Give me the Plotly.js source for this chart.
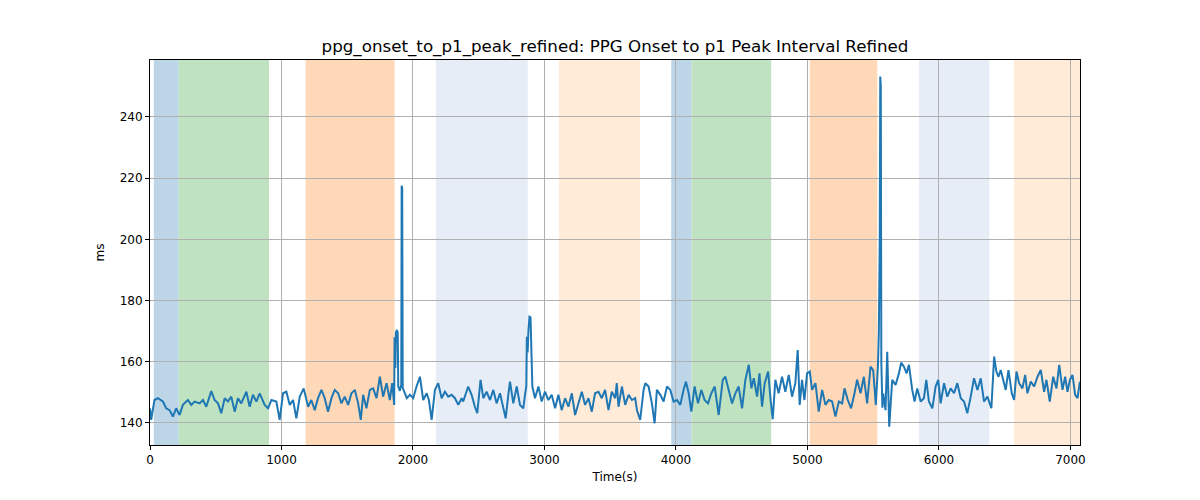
<!DOCTYPE html>
<html>
<head>
<meta charset="utf-8">
<script src="https://cdn.plot.ly/plotly-3.0.1.min.js"></script>
<style>html,body{margin:0;padding:0;background:#fff;}#chart{width:1200px;height:500px;}</style>
</head>
<body>
<div id="chart"></div>
<script>
// Time (s)
const timeS = [
  0, 9, 34, 60, 98, 123, 149, 174, 199, 225, 250, 288, 314, 339, 377, 403, 428, 466, 491, 517,
  542, 568, 593, 618, 644, 669, 694, 733, 758, 783, 809, 834, 872, 898, 923, 961, 986, 1012, 1037, 1063,
  1088, 1113, 1139, 1169, 1202, 1227, 1253, 1278, 1304, 1329, 1354, 1380, 1405, 1431, 1456, 1481, 1507, 1532, 1558, 1583,
  1603, 1621, 1646, 1672, 1697, 1723, 1748, 1773, 1799, 1824, 1842, 1857, 1860, 1866, 1870, 1878, 1884, 1888, 1900, 1911,
  1914, 1918, 1922, 1940, 1953, 1977, 2002, 2027, 2053, 2078, 2104, 2121, 2142, 2167, 2192, 2218, 2243, 2268, 2294, 2319,
  2345, 2370, 2382, 2420, 2446, 2471, 2489, 2514, 2535, 2560, 2586, 2611, 2636, 2662, 2687, 2705, 2725, 2738, 2763, 2789,
  2814, 2839, 2852, 2862, 2866, 2872, 2878, 2886, 2894, 2900, 2908, 2928, 2954, 2979, 3004, 3030, 3055, 3081, 3106, 3131,
  3157, 3182, 3208, 3233, 3258, 3284, 3309, 3335, 3360, 3385, 3411, 3436, 3461, 3487, 3512, 3538, 3550, 3563, 3589, 3614,
  3640, 3665, 3690, 3703, 3728, 3754, 3767, 3792, 3817, 3838, 3855, 3881, 3906, 3932, 3957, 3982, 4008, 4033, 4058, 4076,
  4097, 4117, 4142, 4168, 4193, 4218, 4244, 4269, 4295, 4325, 4356, 4376, 4401, 4427, 4452, 4477, 4503, 4528, 4554, 4574,
  4592, 4617, 4635, 4655, 4675, 4701, 4721, 4736, 4756, 4781, 4807, 4832, 4858, 4883, 4908, 4926, 4941, 4959, 4977, 4997,
  5018, 5035, 5061, 5086, 5112, 5137, 5162, 5188, 5213, 5239, 5264, 5282, 5307, 5332, 5358, 5378, 5404, 5429, 5454, 5480,
  5500, 5520, 5536, 5543, 5550, 5554, 5558, 5562, 5570, 5576, 5594, 5607, 5622, 5645, 5670, 5696, 5713, 5734, 5754, 5772,
  5797, 5815, 5835, 5861, 5886, 5904, 5924, 5950, 5975, 5995, 6013, 6039, 6064, 6089, 6115, 6140, 6166, 6191, 6216, 6242,
  6267, 6293, 6318, 6343, 6369, 6399, 6420, 6437, 6453, 6470, 6488, 6508, 6529, 6554, 6572, 6590, 6610, 6635, 6656, 6673,
  6699, 6724, 6750, 6775, 6800, 6818, 6843, 6869, 6894, 6915, 6940, 6960, 6978, 6996, 7016, 7036, 7054, 7072
];
// PPG onset to p1 peak interval (ms)
const intervalMs = [
  144.8, 141.0, 147.5, 148.1, 147.0, 144.8, 144.2, 142.1, 144.8, 142.6, 145.9, 147.5, 145.9, 147.0, 146.4, 147.5, 145.3, 150.4, 147.5, 146.4,
  143.2, 148.1, 147.0, 148.6, 143.7, 148.1, 146.4, 150.2, 145.3, 149.2, 147.0, 149.7, 145.9, 144.8, 147.5, 147.0, 141.0, 149.7, 150.2, 145.9,
  147.5, 141.5, 148.6, 151.3, 145.3, 147.5, 144.2, 148.1, 150.8, 148.1, 143.7, 148.1, 150.8, 149.7, 146.4, 148.6, 145.9, 149.7, 150.8, 146.4,
  141.0, 149.2, 144.8, 150.8, 151.3, 148.1, 155.1, 148.6, 153.0, 147.5, 153.0, 145.9, 168.0, 158.0, 169.5, 170.4, 169.5, 152.0, 150.5, 152.5,
  217.5, 216.8, 151.5, 149.7, 148.1, 149.2, 148.1, 151.9, 155.1, 147.5, 149.7, 147.5, 141.0, 150.8, 153.0, 148.1, 150.2, 148.6, 149.2, 148.1,
  145.9, 148.1, 147.0, 151.9, 149.2, 145.3, 143.2, 154.1, 148.1, 150.2, 147.5, 150.8, 146.4, 149.7, 145.3, 141.5, 149.2, 153.5, 146.4, 151.9,
  145.9, 144.8, 149.2, 152.0, 168.2, 163.0, 170.0, 174.7, 174.5, 160.0, 151.9, 148.1, 151.9, 147.0, 150.2, 147.5, 149.2, 144.8, 149.2, 144.2,
  148.1, 145.3, 149.7, 142.6, 146.4, 150.2, 145.9, 148.1, 143.7, 149.7, 150.2, 148.1, 150.8, 144.2, 150.2, 148.1, 153.0, 145.3, 151.9, 145.9,
  149.2, 147.5, 148.1, 144.2, 141.0, 150.8, 153.0, 151.9, 146.4, 139.9, 150.8, 149.2, 147.0, 151.9, 150.8, 147.0, 147.5, 145.9, 150.8, 153.5,
  149.7, 143.7, 151.9, 146.4, 150.8, 147.5, 146.4, 149.7, 151.9, 142.6, 154.1, 155.1, 150.8, 146.4, 149.7, 151.9, 144.8, 154.1, 159.0, 151.3,
  154.6, 148.6, 156.2, 145.3, 153.0, 156.8, 147.0, 141.2, 154.1, 149.7, 155.1, 150.2, 155.7, 148.6, 153.0, 163.8, 145.9, 154.1, 147.5, 156.2,
  156.8, 150.8, 153.0, 143.7, 150.8, 145.9, 147.5, 147.0, 142.1, 147.0, 146.4, 151.3, 147.5, 144.8, 149.7, 154.1, 149.7, 155.1, 146.4, 158.4,
  157.3, 145.9, 158.4, 169.4, 200.0, 253.2, 250.0, 160.0, 145.0, 149.7, 144.2, 163.3, 138.8, 154.1, 152.4, 156.2, 159.7, 158.4, 156.2, 159.0,
  150.8, 147.0, 151.3, 147.0, 148.1, 154.1, 147.0, 144.8, 151.9, 154.1, 146.4, 153.0, 148.6, 151.3, 149.7, 153.0, 148.1, 147.0, 143.2, 148.6,
  154.6, 150.8, 154.6, 147.0, 148.6, 144.8, 161.7, 156.8, 155.1, 157.3, 154.1, 150.8, 157.3, 149.7, 147.5, 156.8, 153.0, 151.3, 155.7, 149.7,
  153.5, 151.9, 155.1, 157.3, 150.2, 154.1, 147.0, 155.1, 151.3, 159.0, 150.8, 155.1, 150.2, 154.1, 155.7, 149.2, 148.1, 153.5
];
// Shaded segments [start, end] in seconds and their colours
const bandStart = [29, 219, 1184, 2174, 3111, 3964, 4119, 5018, 5848, 6571];
const bandEnd   = [219, 905, 1860, 2873, 3726, 4119, 4724, 5531, 6384, 7073];
const bandColor = ['#bcd6e8', '#bfe2c0', '#ffd9b7', '#e6edf7', '#ffebd7', '#bcd6e8', '#bfe2c0', '#ffd9b7', '#e6edf7', '#ffebd7'];

const xTicks = [0, 1000, 2000, 3000, 4000, 5000, 6000, 7000];
const yTicks = [140, 160, 180, 200, 220, 240];

const shapes = bandStart.map((s, i) => ({
  type: 'rect', xref: 'x', yref: 'paper', x0: s, x1: bandEnd[i], y0: 0, y1: 1,
  fillcolor: bandColor[i], line: {width: 0}, layer: 'below'
}));

const trace = {
  x: timeS, y: intervalMs, type: 'scatter', mode: 'lines',
  line: {color: '#1f77b4', width: 2}, hoverinfo: 'x+y'
};

const axisCommon = {
  showline: true, linecolor: '#000', linewidth: 1, mirror: true,
  ticks: 'outside', ticklen: 4, tickcolor: '#000', tickwidth: 1,
  showgrid: true, gridcolor: '#b0b0b0', gridwidth: 1, zeroline: false,
  tickfont: {family: 'DejaVu Sans', size: 12, color: '#000'}
};

const layout = {
  width: 1200, height: 500,
  margin: {l: 150, r: 120, t: 60, b: 55},
  paper_bgcolor: '#fff', plot_bgcolor: '#fff',
  showlegend: false,
  title: {text: 'ppg_onset_to_p1_peak_refined: PPG Onset to p1 Peak Interval Refined',
          font: {family: 'DejaVu Sans', size: 16.7, color: '#000'},
          x: 0.5125, xanchor: 'center', y: 0.908, yanchor: 'middle'},
  xaxis: Object.assign({}, axisCommon, {
    range: [0, 7073], tickvals: xTicks, ticktext: xTicks.map(String),
    title: {text: 'Time(s)', font: {family: 'DejaVu Sans', size: 12, color: '#000'}, standoff: 6}
  }),
  yaxis: Object.assign({}, axisCommon, {
    range: [132.8, 258.6], tickvals: yTicks, ticktext: yTicks.map(String),
    title: {text: 'ms', font: {family: 'DejaVu Sans', size: 12, color: '#000'}, standoff: 12}
  }),
  shapes: shapes
};

Plotly.newPlot('chart', [trace], layout, {displayModeBar: false, staticPlot: true});
</script>
</body>
</html>
